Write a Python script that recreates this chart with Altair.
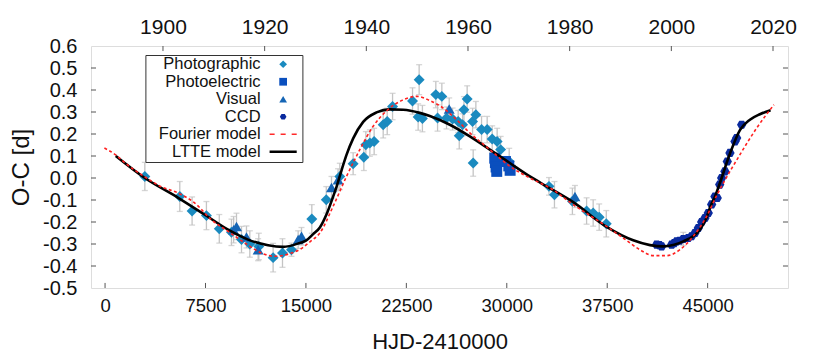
import altair as alt
import pandas as pd

# ---------------- observations (HJD-2410000, O-C [d], error) ----------------
photo_x = [2970, 5580, 6500, 7570, 8530, 9440, 10190, 10810, 11480, 12550, 13250, 13920,
           15440, 16520, 17530, 18525, 19325, 19475, 19775, 20095, 20770, 21070, 21470,
           22960, 23455, 23380, 23700, 24700, 25150, 24830, 25500, 25950, 26370, 26700,
           27040, 26800, 26450, 27445, 27690, 27490, 28115, 28535, 28910, 29280, 29540,
           30180, 33150, 33560, 34900, 35960, 36450, 36900, 37430]
photo_y = [0.007, -0.084, -0.150, -0.171, -0.231, -0.247, -0.280, -0.300, -0.311, -0.362, -0.341, -0.326,
           -0.186, -0.099, 0.007, 0.065, 0.094, 0.151, 0.159, 0.166, 0.242, 0.257, 0.325,
           0.350, 0.447, 0.277, 0.270, 0.379, 0.371, 0.273, 0.273, 0.268, 0.257, 0.242,
           0.359, 0.310, 0.192, 0.257, 0.288, 0.068, 0.220, 0.220, 0.177, 0.166, 0.129,
           0.075, -0.038, -0.076, -0.106, -0.150, -0.159, -0.178, -0.208]
photo_err = [0.064, 0.068, 0.064, 0.064, 0.065, 0.06, 0.06, 0.06, 0.06, 0.065, 0.065, 0.03,
             0.065, 0.06, 0.06, 0.05, 0.06, 0.06, 0.06, 0.06, 0.06, 0.06, 0.06,
             0.06, 0.068, 0.06, 0.06, 0.06, 0.06, 0.06, 0.05, 0.05, 0.05, 0.05,
             0.06, 0.06, 0.06, 0.06, 0.06, 0.06, 0.06, 0.06, 0.06, 0.06, 0.06,
             0.06, 0.04, 0.06, 0.06, 0.06, 0.06, 0.06, 0.06]

visual_x = [9600, 9815, 10560, 11430, 14420, 14670, 16910, 17400, 25700, 35090]
visual_y = [-0.235, -0.220, -0.268, -0.326, -0.280, -0.265, -0.043, -0.008, 0.314, -0.084]
visual_err = [0.06, 0.06, 0.05, 0.05, 0.04, 0.04, 0.05, 0.05, 0.05, 0.05]

pe_x = [29100, 29150, 29200, 29250, 29900, 30150, 30250]
pe_y = [0.090, 0.070, 0.050, 0.030, 0.075, 0.055, 0.035]
pe_err = [0, 0, 0, 0, 0, 0, 0]

ccd_x = [41190, 41400, 41560, 42310, 42500, 42680, 42900, 43180, 43550, 43800, 44050, 44300,
         44550, 44800, 45045, 45300, 45545, 45715, 45900, 46045, 46290, 46465, 46665, 47040,
         47165, 47540]
ccd_y = [-0.303, -0.305, -0.311, -0.303, -0.296, -0.288, -0.285, -0.277, -0.273, -0.265, -0.250, -0.227,
         -0.200, -0.182, -0.159, -0.120, -0.084, -0.091, -0.030, 0.000, 0.030, 0.075, 0.114, 0.166,
         0.182, 0.242]
ccd_err = [0, 0, 0, 0, 0, 0, 0, 0.03, 0, 0, 0, 0,
           0, 0, 0, 0, 0, 0, 0, 0, 0, 0, 0, 0, 0, 0]

# ---------------- models ----------------
ltte_x = [800, 2970, 5460, 7450, 9190, 10680, 12175, 13300, 14545, 15000, 15540, 16040, 16540,
          17030, 17285, 17660, 18030, 18530, 19275, 20270, 21270, 22260, 23500, 24255, 25750,
          27240, 28735, 30230, 31725, 32970, 34960, 37455, 39440, 40700, 41680, 42500, 43180,
          44420, 44920, 45170, 45545, 45915, 46660, 47410, 48155, 48900, 49700]
ltte_y = [0.100, 0.000, -0.090, -0.167, -0.235, -0.280, -0.306, -0.313, -0.295, -0.285, -0.255, -0.225, -0.165,
          -0.085, -0.040, 0.035, 0.105, 0.180, 0.255, 0.298, 0.312, 0.310, 0.296, 0.282, 0.242,
          0.189, 0.129, 0.068, 0.007, -0.038, -0.110, -0.222, -0.283, -0.305, -0.311, -0.303, -0.288,
          -0.235, -0.180, -0.135, -0.085, -0.023, 0.110, 0.218, 0.265, 0.290, 0.308]

four_x = [-50, 800, 1500, 2970, 4200, 5450, 6700, 7950, 9190, 10435, 11680, 12675, 13925, 14545,
          15300, 16040, 17030, 18030, 19025, 20020, 21020, 22260, 23260, 24255, 25250, 26250,
          27240, 28735, 30230, 31725, 33220, 34960, 37455, 38700, 39940, 40935, 41935, 42930,
          43920, 44920, 45670, 46170, 47410, 48660, 49950]
four_y = [0.136, 0.105, 0.068, 0.005, -0.040, -0.068, -0.114, -0.190, -0.243, -0.295, -0.341, -0.356, -0.341, -0.325,
          -0.290, -0.250, -0.129, 0.007, 0.129, 0.235, 0.305, 0.355, 0.371, 0.352, 0.318, 0.265,
          0.205, 0.129, 0.053, 0.000, -0.045, -0.121, -0.220, -0.273, -0.326, -0.353, -0.353, -0.326,
          -0.265, -0.175, -0.080, -0.023, 0.106, 0.227, 0.333]

# ---------------- axes ----------------
x_ticks = [0, 7500, 15000, 22500, 30000, 37500, 45000]
y_ticks = [-0.5, -0.4, -0.3, -0.2, -0.1, 0.0, 0.1, 0.2, 0.3, 0.4, 0.5, 0.6]
year_ticks = [1900, 1920, 1940, 1960, 1980, 2000, 2020]

types = ["Photographic", "Photoelectric", "Visual", "CCD", "Fourier model", "LTTE model"]
type_colors = ["#1a8abf", "#0a4fbe", "#1565b5", "#0a2a9e", "#ff2a2a", "#000000"]
hexagon = "M-0.85,0L-0.43,-0.74L0.43,-0.74L0.85,0L0.43,0.74L-0.43,0.74Z"
dash_sym = ("M-3.5,-0.2L-2.2,-0.2L-2.2,0.2L-3.5,0.2Z "
            "M-0.65,-0.2L0.65,-0.2L0.65,0.2L-0.65,0.2Z "
            "M2.2,-0.2L3.5,-0.2L3.5,0.2L2.2,0.2Z")
line_sym = "M-3.5,-0.33L3.5,-0.33L3.5,0.33L-3.5,0.33Z M4.55,-0.01L4.6,-0.01L4.6,0.01Z"
type_shapes = ["diamond", "square", "triangle-up", hexagon, dash_sym, line_sym]

FONT = "Liberation Sans"
TXT = "#111111"
FRAME = "#555555"

obs = pd.concat([
    pd.DataFrame({"hjd": photo_x, "oc": photo_y, "err": photo_err, "type": "Photographic"}),
    pd.DataFrame({"hjd": visual_x, "oc": visual_y, "err": visual_err, "type": "Visual"}),
    pd.DataFrame({"hjd": pe_x, "oc": pe_y, "err": pe_err, "type": "Photoelectric"}),
    pd.DataFrame({"hjd": ccd_x, "oc": ccd_y, "err": ccd_err, "type": "CCD"}),
], ignore_index=True)
obs["order"] = range(len(obs))
errs = obs[obs["err"] > 0].copy()
errs["lo"] = errs["oc"] - errs["err"]
errs["hi"] = errs["oc"] + errs["err"]

ltte = pd.DataFrame({"hjd": ltte_x, "oc": ltte_y})
four = pd.DataFrame({"hjd": four_x, "oc": four_y})

x_scale = alt.Scale(domain=[-1050, 51000], nice=False, zero=False)
y_scale = alt.Scale(domain=[-0.5, 0.6], nice=False, zero=False)

x_axis = alt.Axis(title="HJD-2410000", values=x_ticks, format="d", tickSize=0, domain=False,
                  grid=False, labelFontSize=18.5, labelPadding=8, titleFontSize=22,
                  titleFontWeight="normal", titlePadding=17, labelFont=FONT, titleFont=FONT,
                  labelColor=TXT, titleColor=TXT, labelFlush=False, labelOverlap=False)
y_axis = alt.Axis(title="O-C [d]", values=y_ticks, tickSize=0, domain=False, grid=False,
                  labelExpr="replace(format(datum.value, '.1f'), '\u2212', '-')",
                  labelFontSize=20, labelPadding=14, titleFontSize=24, titleFontWeight="normal",
                  titlePadding=9, labelFont=FONT, titleFont=FONT, labelColor=TXT, titleColor=TXT,
                  labelFlush=False, labelOverlap=False, labelBound=False)

X = alt.X("hjd:Q", scale=x_scale, axis=x_axis)
Y = alt.Y("oc:Q", scale=y_scale, axis=y_axis)

ERR_C = "#c4c4c4"
err_rule = alt.Chart(errs).mark_rule(color=ERR_C, strokeWidth=1.3).encode(
    x=X, y=alt.Y("lo:Q", scale=y_scale, axis=y_axis), y2="hi:Q")
cap_lo = alt.Chart(errs).mark_tick(color=ERR_C, orient="horizontal", size=6, thickness=1.3).encode(
    x=X, y=alt.Y("lo:Q", scale=y_scale, axis=y_axis))
cap_hi = alt.Chart(errs).mark_tick(color=ERR_C, orient="horizontal", size=6, thickness=1.3).encode(
    x=X, y=alt.Y("hi:Q", scale=y_scale, axis=y_axis))

leg = alt.Legend(orient="none", legendX=54.4, legendY=9, title=None, labelAlign="right",
                 symbolOffset=128.5, labelOffset={"expr": "-30.8"}, symbolSize=60,
                 symbolStrokeWidth=0, symbolOpacity=1, labelFontSize=16.5, labelFont=FONT,
                 labelColor=TXT, strokeColor="#333333", fillColor="white", padding=1,
                 rowPadding=0.5, labelLimit=300)

pts = alt.Chart(obs).mark_point(filled=True, opacity=1, size=120, strokeWidth=0).encode(
    x=X, y=Y,
    color=alt.Color("type:N", scale=alt.Scale(domain=types, range=type_colors), legend=leg),
    shape=alt.Shape("type:N", scale=alt.Scale(domain=types, range=type_shapes), legend=leg),
    order="order:Q",
)

ltte_line = alt.Chart(ltte).mark_line(color="black", strokeWidth=2.6, interpolate="monotone").encode(
    x=X, y=Y)
four_line = alt.Chart(four).mark_line(color="#ff2020", strokeWidth=1.6, strokeDash=[3, 2.5],
                                      interpolate="monotone").encode(x=X, y=Y)

# inward tick marks on all four sides
xtk = pd.DataFrame({"hjd": x_ticks})
ytk_in = [v for v in y_ticks if -0.5 < v < 0.6]
ytk2 = pd.DataFrame({"oc": ytk_in})
left_ticks = alt.Chart(ytk2).mark_rule(color=FRAME, strokeWidth=1).encode(
    x=alt.XDatum(-1050, scale=x_scale, axis=x_axis), x2=alt.X2Datum(-676), y=Y)
right_ticks = alt.Chart(ytk2).mark_rule(color=FRAME, strokeWidth=1).encode(
    x=alt.XDatum(51000, scale=x_scale, axis=x_axis), x2=alt.X2Datum(50626), y=Y)
bottom_ticks = alt.Chart(xtk).mark_rule(color=FRAME, strokeWidth=1).encode(
    x=X, y=alt.YDatum(-0.5, scale=y_scale, axis=y_axis), y2=alt.Y2Datum(-0.477))

main = alt.layer(err_rule, cap_lo, cap_hi, pts, ltte_line, four_line,
                 left_ticks, right_ticks, bottom_ticks)

yrs = pd.DataFrame({"year": year_ticks})
top_ticks = alt.Chart(yrs).mark_rule(color=FRAME, strokeWidth=1).encode(
    x=alt.X("year:Q", scale=alt.Scale(domain=[1885.84, 2022.95], nice=False, zero=False),
            axis=alt.Axis(orient="top", title=None, values=year_ticks, format="d", tickSize=0,
                          domain=False, grid=False, labelFontSize=21, labelPadding=9,
                          labelFont=FONT, labelColor=TXT, labelFlush=False, labelOverlap=False)),
    y=alt.YDatum(0.6, scale=y_scale, axis=y_axis), y2=alt.Y2Datum(0.577))

chart = alt.layer(main, top_ticks).resolve_scale(x="independent").properties(
    width=697, height=242,
    autosize="none",
    padding={"left": 83, "top": 38, "right": 20, "bottom": 66},
).configure_view(stroke=FRAME, strokeWidth=1.2).configure_axis(
    labelOverlap=False
).configure(background="white")

chart.save("out.html", embed_options={"renderer": "svg", "actions": False})
